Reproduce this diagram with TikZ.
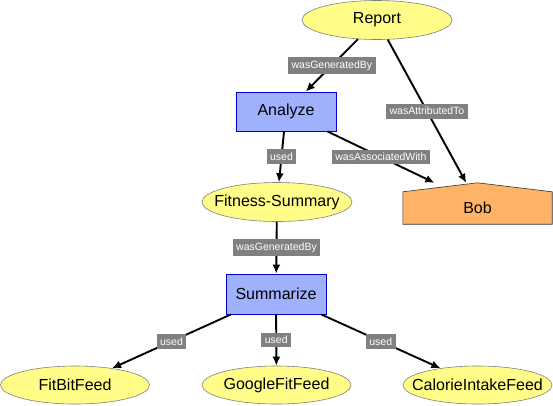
\documentclass[tikz,border=0pt]{standalone}
\usepackage{fontspec}
\setmainfont{Liberation Sans}
\usetikzlibrary{shapes.geometric,arrows.meta}
\definecolor{entfill}{HTML}{FFFC87}
\definecolor{actfill}{HTML}{9FB1FC}
\definecolor{agfill}{HTML}{FFB366}
\definecolor{lblgray}{HTML}{808080}
\newcommand{\zw}[1]{\makebox[0pt][c]{#1}}
\tikzset{
  entity/.style={ellipse, draw=lblgray, fill=entfill, line width=0.6bp, inner sep=0pt,
    minimum width=150bp, minimum height=39bp, font=\fontsize{16bp}{19bp}\selectfont},
  activity/.style={rectangle, draw=blue!80!black, fill=actfill, line width=0.8bp, inner sep=0pt,
    minimum width=100bp, minimum height=39bp, font=\fontsize{16bp}{19bp}\selectfont},
  agentbox/.style={rectangle, draw=none, inner sep=0pt, minimum width=149bp, minimum height=41bp,
    font=\fontsize{16bp}{19bp}\selectfont, text depth=0pt},
  rel/.style={line width=1.9bp, -{Latex[length=9bp,width=8bp]}},
  lbl/.style={fill=lblgray, text=white, inner xsep=3.5bp, inner ysep=3.5bp,
    font=\fontsize{10.5bp}{12bp}\selectfont, sloped=false}
}
\begin{document}
\begin{tikzpicture}[x=1bp,y=-1bp]
\useasboundingbox (0,0) rectangle (553,405);
% Bob (agent, house shape)
\node[agentbox] (bob) at (477.5,203.5) {};
\filldraw[fill=agfill, draw=black!80, line width=0.6bp]
  (bob.north) -- ([yshift=-9bp]bob.north east) -- (bob.south east)
  -- (bob.south west) -- ([yshift=-9bp]bob.north west) -- cycle;
\node[font=\fontsize{16bp}{19bp}\selectfont] (bobtext) at (477.5,208) {Bob};
% entities and activities
\node[entity] (report) at (377,20) {\zw{Report}};
\node[activity] (analyze) at (286,111.5) {Analyze};
\node[entity] (fitness) at (277,202) {\zw{Fitness-Summary}};
\node[activity, minimum width=100bp, minimum height=40bp] (summarize) at (276,294) {Summarize};
\node[entity, minimum width=149bp, minimum height=38bp] (fitbit) at (75,385) {\zw{FitBitFeed}};
\node[entity, minimum width=149bp, minimum height=38bp] (google) at (276.5,385) {\zw{GoogleFitFeed}};
\node[entity, minimum width=149bp, minimum height=38bp] (calorie) at (477.5,385) {\zw{CalorieIntakeFeed}};
% relations
\draw[rel] (report) -- node[lbl] {wasGeneratedBy} (analyze);
\draw[rel] (report) -- node[lbl] {wasAttributedTo} (bob);
\draw[rel] (analyze) -- node[lbl] {wasAssociatedWith} (bob);
\draw[rel] (analyze) -- node[lbl] {used} (fitness);
\draw[rel] (fitness) -- node[lbl] {wasGeneratedBy} (summarize);
\draw[rel] (summarize) -- node[lbl] {used} (fitbit);
\draw[rel] (summarize) -- node[lbl] {used} (google);
\draw[rel] (summarize) -- node[lbl] {used} (calorie);
\end{tikzpicture}
\end{document}
